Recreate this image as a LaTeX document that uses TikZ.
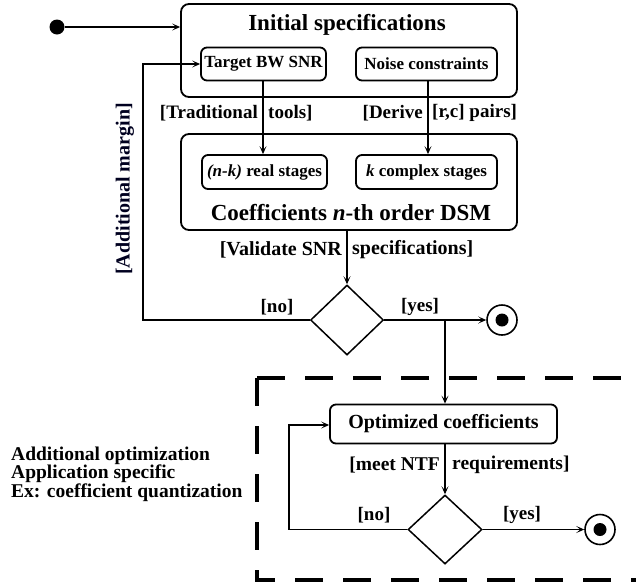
\documentclass[tikz,border=0pt]{standalone}
\usepackage{fontspec}
\setmainfont{Liberation Serif}
\usetikzlibrary{shapes.geometric,arrows.meta}
\begin{document}
\begin{tikzpicture}[x=1pt,y=-1pt,
  bigbox/.style={draw,rounded corners=8pt,line width=1.8pt,inner sep=0pt},
  smallbox/.style={draw,rounded corners=6pt,line width=1.8pt,inner sep=0pt,font=\fontsize{17}{19}\selectfont\bfseries},
  optbox/.style={draw,rounded corners=6pt,line width=1.8pt,inner sep=0pt,font=\fontsize{20}{22}\selectfont\bfseries},
  titletext/.style={font=\fontsize{23}{25}\selectfont\bfseries,inner sep=0pt},
  guard/.style={font=\fontsize{19}{21}\selectfont\bfseries,inner sep=0pt},
  decision/.style={draw,diamond,line width=1.5pt,inner sep=0pt,minimum width=#1},
  flow/.style={line width=1.6pt,-{Stealth[length=8pt,width=7pt,inset=4pt]}},
  plain/.style={line width=1.6pt},
  endring/.style={draw,circle,line width=1.6pt,minimum size=30pt,inner sep=0pt},
  dot/.style={fill,circle,inner sep=0pt,minimum size=#1},
  region/.style={line width=3.5pt,dash pattern=on 28pt off 20pt}
]
\useasboundingbox (0,0) rectangle (636,587);

% start
\node[dot=15pt] (start) at (57,27) {};

% Initial specifications
\node[bigbox,minimum width=336pt,minimum height=93pt] (init) at (349,50.5) {};
\node[titletext] (inittitle) at (347,25) {Initial specifications};
\node[smallbox,minimum width=125pt,minimum height=33pt] (target) at (263.5,64) {Target BW SNR};
\node[smallbox,minimum width=141pt,minimum height=33pt] (noise) at (426.5,64) {Noise constraints};

% Coefficients
\node[bigbox,minimum width=336pt,minimum height=96pt] (coef) at (349,182) {};
\node[smallbox,minimum width=125pt,minimum height=34pt] (real) at (264.5,172) {\textit{(n-k)} real stages};
\node[smallbox,minimum width=141pt,minimum height=34pt] (cplx) at (426.5,172) {\textit{k} complex stages};
\node[titletext] (coeftitle) at (351,213) {Coefficients \textit{n}-th order DSM};

% decision 1
\node[decision=73pt,minimum height=70pt] (d1) at (347,320) {};
\node[endring] (end1) at (502,320) {};
\node[dot=13pt] (end1dot) at (end1.center) {};

% optimized
\node[optbox,minimum width=227pt,minimum height=39pt] (opt) at (443.5,424) {Optimized coefficients};
\node[decision=74pt,minimum height=69pt] (d2) at (445,529.5) {};
\node[endring] (end2) at (600,529.5) {};
\node[dot=13pt] (end2dot) at (end2.center) {};

% coordinates
\coordinate (t1) at (263,80);
\coordinate (n1) at (428,80);
\coordinate (c1) at (347,230);
\coordinate (loopA) at (143,320);
\coordinate (loopB) at (143,64);
\coordinate (split) at (445,320);
\coordinate (loopC) at (289,529.5);
\coordinate (loopD) at (289,425);

% connectors
\draw[flow] (start) -- (start -| init.west);
\draw[flow] (t1) -- (t1 |- real.north);
\draw[flow] (n1) -- (n1 |- cplx.north);
\draw[flow] (d1.north |- coef.south) -- (d1.north);
\draw[flow] (d1.west) -- (loopA) -- (loopB) -- (target.west);
\draw[flow] (d1.east) -- (end1.west);
\draw[flow] (split) -- (split |- opt.north);
\draw[flow] (opt.south -| d2.north) -- (d2.north);
\draw[flow] (d2.west) -- (loopC) -- (loopD) -- (loopD -| opt.west);
\draw[flow] (d2.east) -- (end2.west);

% guard labels
\node[guard,anchor=east] (g1a) at (258,113) {[Traditional};
\node[guard,anchor=west] (g1b) at (268,113) {tools]};
\node[guard,anchor=east] (g2a) at (423,113) {[Derive};
\node[guard,anchor=west] (g2b) at (432,113) {[r,c] pairs]};
\node[guard,font=\fontsize{20}{22}\selectfont\bfseries,anchor=east] (g3a) at (342,250) {[Validate SNR};
\node[guard,font=\fontsize{20}{22}\selectfont\bfseries,anchor=west] (g3b) at (352,250) {specifications]};
\node[guard] (no1) at (277,307) {[no]};
\node[guard] (yes1) at (420,307) {[yes]};
\node[guard,font=\fontsize{19.5}{21}\selectfont\bfseries,anchor=east] (g4a) at (440,465) {[meet NTF};
\node[guard,font=\fontsize{19.5}{21}\selectfont\bfseries,anchor=west] (g4b) at (452,465) {requirements]};
\node[guard] (no2) at (374,515) {[no]};
\node[guard] (yes2) at (522,515) {[yes]};
\node[guard,font=\fontsize{20}{22}\selectfont\bfseries,rotate=90,text=black!88!blue] (margin) at (125,189) {[Additional margin]};

% dashed region
\draw[region] (257,378) -- (680,378);
\draw[region] (257,378) -- (257,580) -- (680,580);
\node[font=\fontsize{19.5}{18.5}\selectfont\bfseries,align=left,anchor=west,inner sep=0pt] (note) at (11,474)
  {Additional optimization\\Application specific\\Ex: coefficient quantization};
\end{tikzpicture}
\end{document}
